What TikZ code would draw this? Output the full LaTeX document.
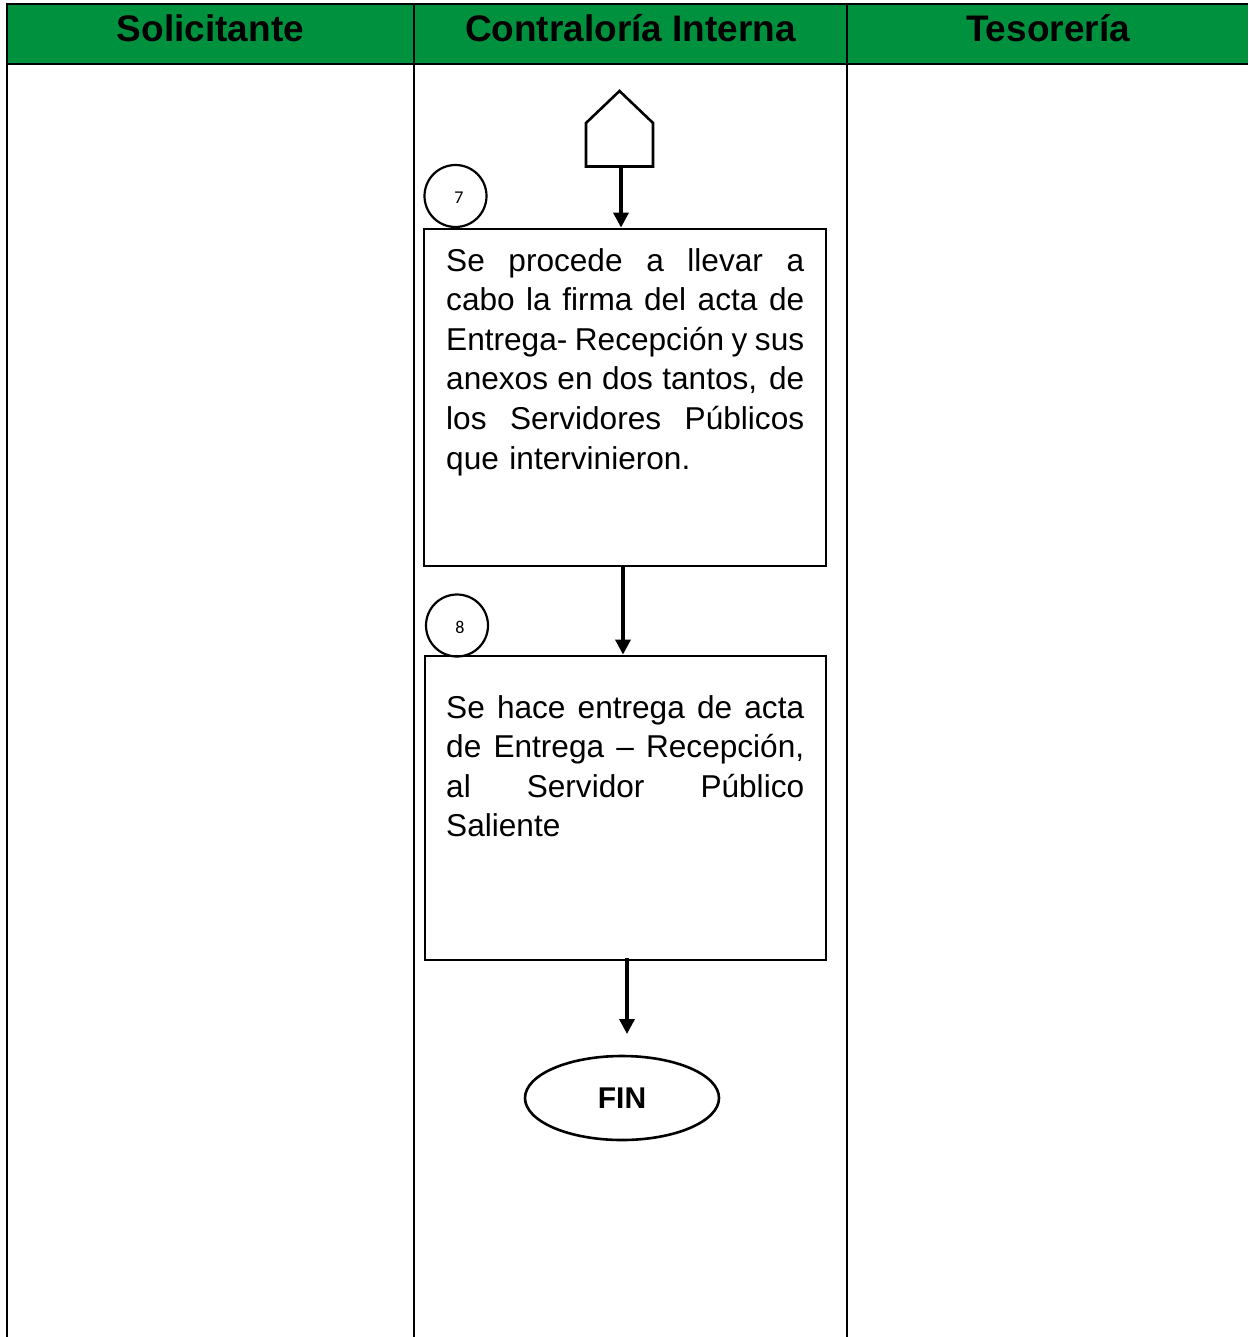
\documentclass[tikz,border=0pt]{standalone}
\usepackage{fontspec}
\setmainfont{Liberation Sans}
\newfontfamily\numfont{Carlito}
\usetikzlibrary{shapes.geometric,arrows.meta,calc}

\definecolor{lanegreen}{RGB}{0,145,63}

\tikzset{
  grid line/.style={line width=2pt, draw=black},
  lanehead/.style={anchor=base, font=\fontsize{37}{40}\selectfont\bfseries},
  procbox/.style={draw, line width=2.8pt, rectangle, inner sep=0pt},
  stepnum/.style={draw, line width=2.2pt, circle, minimum size=62pt, inner sep=0pt},
  numtext/.style={inner sep=0pt, font=\numfont\fontsize{18}{19}\selectfont},
  boxtext/.style={anchor=north west, inner sep=0pt, text width=358pt, align=left,
                  font=\fontsize{31.6}{39.6}\selectfont},
  flow/.style={line width=3.5pt, -{Triangle[length=15pt,width=15pt]}},
  terminal/.style={draw, line width=2.6pt, ellipse, minimum width=194pt,
                   minimum height=84pt, inner sep=0pt,
                   font=\fontsize{30}{32}\selectfont\bfseries},
}

% fully justified line of fixed width
\newcommand{\jline}[1]{\leavevmode\hbox to 358pt{\spaceskip=0pt plus 1fil\relax #1}}

\begin{document}
\begin{tikzpicture}[x=1pt,y=-1pt]
  \useasboundingbox (0,0) rectangle (1248,1337);

  % swimlane header band
  \fill[lanegreen] (7,4) rectangle (1248,64);
  \draw[grid line] (7,4) -- (1248,4);
  \draw[grid line] (7,64) -- (1248,64);
  \draw[grid line] (7,3) -- (7,1337);
  \draw[grid line] (414,3) -- (414,1337);
  \draw[grid line] (847,3) -- (847,1337);

  \node[lanehead] (h1) at (210.5,42) {Solicitante};
  \node[lanehead] (h2) at (630.5,42) {Contraloría Interna};
  \node[lanehead] (h3) at (1048,42) {Tesorería};

  % off-page connector
  \draw[line width=2.6pt, line join=miter]
    (586,166.5) -- (586,123) -- (619.5,91) -- (653,123) -- (653,166.5) -- cycle;
  \coordinate (conn) at (621,166.5);

  % step 7
  \node[procbox, minimum width=402pt, minimum height=337pt] (b1) at (625,397.5) {};
  \node[stepnum] (n7) at (455.5,196) {};
  \node[numtext] (n7t) at ($(n7.center)+(3.5,1.5)$) {7};
  \node[boxtext] (t1) at (446,248) {%
    \jline{Se procede a llevar a}\\
    \jline{cabo la firma del acta de}\\
    \jline{Entrega- Recepción y sus}\\
    \jline{anexos en dos tantos, de}\\
    \jline{los Servidores Públicos}\\
    que intervinieron.};

  % step 8
  \node[procbox, minimum width=401pt, minimum height=304pt] (b2) at (625.5,808) {};
  \node[stepnum] (n8) at (457,625.5) {};
  \node[numtext] (n8t) at ($(n8.center)+(3,1.5)$) {8};
  \node[boxtext] (t2) at (446,695) {%
    \jline{Se hace entrega de acta}\\
    \jline{de Entrega -- Recepción,}\\
    \jline{al Servidor Público}\\
    Saliente};

  % end
  \node[terminal] (fin) at (622,1098) {FIN};

  % connectors
  \coordinate (c2) at (623,0);
  \coordinate (c3) at (627,0);
  \coordinate (c3end) at (627,1034);
  \draw[flow] (conn) -- (conn |- b1.north);
  \draw[flow] (c2 |- b1.south) -- (c2 |- b2.north);
  \draw[flow] ($(c3 |- b2.south)+(0,-3)$) -- (c3end);
\end{tikzpicture}
\end{document}
